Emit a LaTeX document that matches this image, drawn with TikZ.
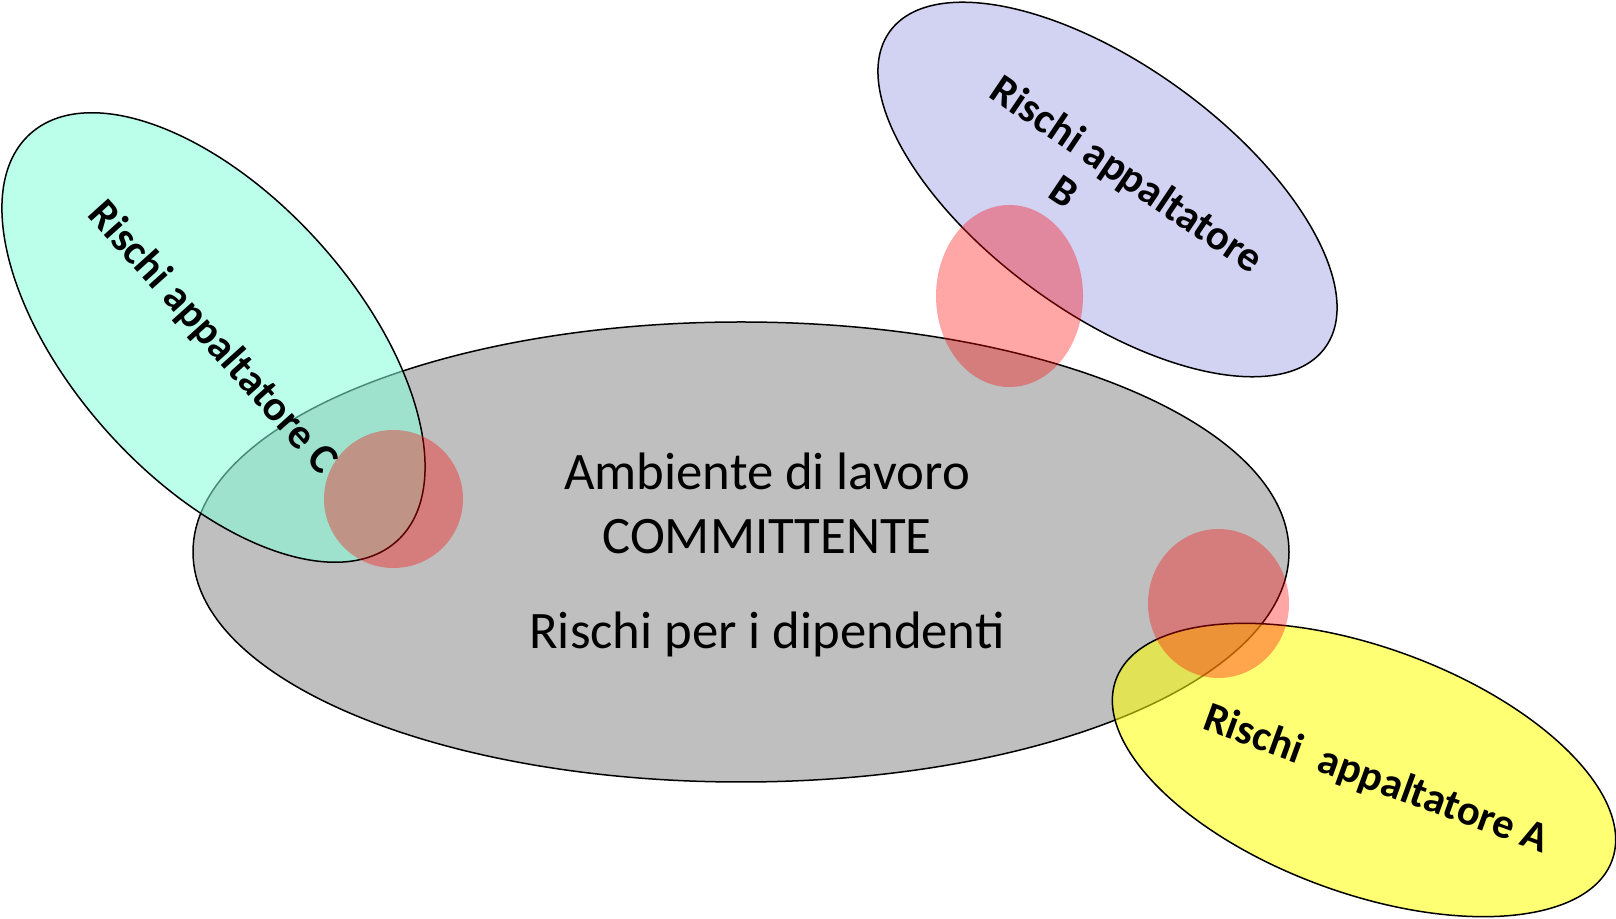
\documentclass[tikz,border=0pt]{standalone}
\usepackage{fontspec}
\setmainfont{Carlito}
\usetikzlibrary{shapes.geometric}
\definecolor{grayE}{RGB}{191,191,191}
\definecolor{cyanE}{RGB}{131,255,219}
\definecolor{blueE}{RGB}{210,210,243}
\definecolor{yellowE}{RGB}{255,255,0}
\definecolor{redE}{RGB}{255,0,0}
\tikzset{
  outl/.style={draw=black, line width=1.5pt},
  riskspot/.style={fill=redE, fill opacity=0.35, draw=none},
  contrlabel/.style={font=\fontsize{42.5}{50}\selectfont\bfseries, inner sep=0pt, align=center},
  mainlabel/.style={font=\fontsize{52.7}{63.4}\selectfont, inner sep=0pt, align=center}
}
\begin{document}
\begin{tikzpicture}[x=1pt,y=1pt]
\useasboundingbox (0,0) rectangle (1616,918);
% main ellipse
\draw[outl, fill=grayE] (741,366) ellipse [x radius=548, y radius=230];
% contractor C
\draw[outl, fill=cyanE, fill opacity=0.55, rotate around={-48:(213.5,580.5)}] (213.5,580.5) ellipse [x radius=274, y radius=142];
% contractor B
\draw[outl, fill=blueE, rotate around={-36:(1107.5,728.5)}] (1107.5,728.5) ellipse [x radius=269, y radius=124];
% contractor A
\draw[outl, fill=yellowE, fill opacity=0.55, rotate around={-20:(1364,148)}] (1364,148) ellipse [x radius=264, y radius=123];
% interference spots
\fill[riskspot] (393.5,419) ellipse [x radius=69.5, y radius=69];
\fill[riskspot] (1009.5,622) ellipse [x radius=73.5, y radius=91];
\fill[riskspot] (1218.5,314.5) ellipse [x radius=70.5, y radius=74.5];
% labels
\node[mainlabel] (main) at (767,363) {Ambiente di lavoro\\COMMITTENTE\\[32pt]Rischi per i dipendenti};
\node[contrlabel, rotate=-48] (labC) at (212,580) {Rischi appaltatore C};
\node[contrlabel, rotate=-34] (labB) at (1114,724) {Rischi appaltatore\\B\hspace*{86pt}};
\node[contrlabel, rotate=-20] (labA) at (1376,138) {Rischi\ \ appaltatore A};
\end{tikzpicture}
\end{document}
